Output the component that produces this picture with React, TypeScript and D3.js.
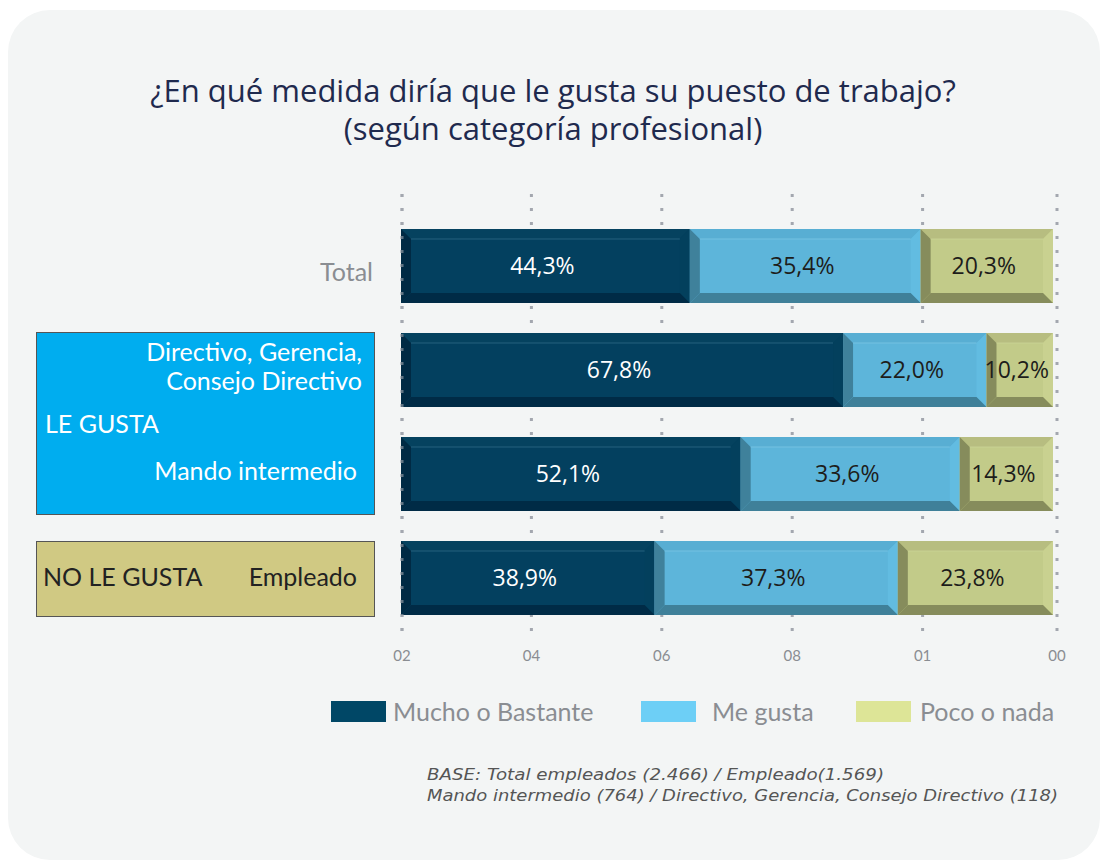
import React from 'react';
import * as d3 from 'd3';

const categories = ['Total', 'Directivo', 'Mando', 'Empleado'];
const mucho = [44.3, 67.8, 52.1, 38.9];
const meGusta = [35.4, 22.0, 33.6, 37.3];
const poco = [20.3, 10.2, 14.3, 23.8];
const seriesNames = ['Mucho o Bastante', 'Me gusta', 'Poco o nada'];
const tickValues = [0, 20, 40, 60, 80, 100];
const tickLabels = ['02', '04', '06', '08', '01', '00'];

// bevel palettes per series: face, top, right, bottom, left, label
const palettes = [
  { face: '#03405f', top: '#05425f', right: '#03405d', bottom: '#002b46', left: '#002a44', line: '#2f6a86', text: '#ffffff' },
  { face: '#5db5da', top: '#58aed3', right: '#62bce1', bottom: '#3f8099', left: '#3f819b', line: '#7cc6e4', text: '#1d1d1b' },
  { face: '#c2cb89', top: '#b7bd80', right: '#c9d190', bottom: '#868c5c', left: '#868c5c', line: '#ccd497', text: '#1d1d1b' },
];
const legendColors = ['#004766', '#6dcff6', '#dde597'];

const fmt = (v: number) => v.toFixed(1).replace('.', ',') + '%';

const BevelBar = ({ x0, x1, y0, h, pal, label }: any) => {
  const b = 10;
  const y1 = y0 + h;
  const pts = (arr: number[][]) => arr.map(p => p.join(',')).join(' ');
  return (
    <g>
      <rect x={x0} y={y0} width={x1 - x0} height={h} fill={pal.face} />
      <polygon points={pts([[x0, y0], [x1, y0], [x1 - b, y0 + b], [x0 + b, y0 + b]])} fill={pal.top} />
      <polygon points={pts([[x1, y0], [x1, y1], [x1 - b, y1 - b], [x1 - b, y0 + b]])} fill={pal.right} />
      <polygon points={pts([[x0, y1], [x1, y1], [x1 - b, y1 - b], [x0 + b, y1 - b]])} fill={pal.bottom} />
      <polygon points={pts([[x0, y0], [x0 + b, y0 + b], [x0 + b, y1 - b], [x0, y1]])} fill={pal.left} />
      <line x1={x0 + b} x2={x1 - b} y1={y0 + b} y2={y0 + b} stroke={pal.line} strokeWidth={0.8} />
      <text
        x={(x0 + x1) / 2 - 3}
        y={y0 + h / 2 + 8}
        textAnchor="middle"
        fill={pal.text}
        fontSize={23}
        fontFamily="'Open Sans', sans-serif"
      >
        {label}
      </text>
    </g>
  );
};

const App = () => {
  const x = d3.scaleLinear().domain([0, 100]).range([401, 1053]);
  const y = d3.scaleBand<string>().domain(categories).range([229, 615]).paddingInner(0.2885).paddingOuter(0);
  const stack = d3
    .stack<any>()
    .keys(['m', 'g', 'p'])(categories.map((c, i) => ({ c, m: mucho[i], g: meGusta[i], p: poco[i] })));

  const font = "Lato, 'Open Sans', sans-serif";
  const gx = (t: number) => (t === 100 ? x(t) + 4 : t === 0 ? x(t) + 1 : x(t));

  return (
    <svg width={1100} height={861} style={{ position: 'absolute', left: 0, top: 0 }}>
      <rect x={0} y={0} width={1100} height={861} fill="#ffffff" />
      <rect x={8} y={10} width={1092} height={850} rx={42} fill="#f3f5f5" />

      <text x={553} y={102} textAnchor="middle" fontSize={31} fill="#1f2a4e" fontFamily="'Open Sans', sans-serif">
        ¿En qué medida diría que le gusta su puesto de trabajo?
      </text>
      <text x={553} y={140} textAnchor="middle" fontSize={31} fill="#1f2a4e" fontFamily="'Open Sans', sans-serif">
        (según categoría profesional)
      </text>

      {/* dotted grid */}
      {tickValues.map((t, i) => (
        <g key={t}>
          <line x1={gx(t)} x2={gx(t)} y1={194} y2={634} stroke="#a3a7af" strokeWidth={3} strokeDasharray="3,11" />
          <text x={gx(t)} y={661} textAnchor="middle" fontSize={15} fill="#8a8d92" fontFamily={font}>
            {tickLabels[i]}
          </text>
        </g>
      ))}

      {/* left category boxes */}
      <rect x={36.5} y={332.5} width={338} height={182} fill="#00adef" stroke="#555" strokeWidth={1} />
      <rect x={36.5} y={541.5} width={338} height={75} fill="#d0c983" stroke="#555" strokeWidth={1} />

      <text x={373} y={281} textAnchor="end" fontSize={25} fill="#8a8d92" fontFamily={font}>Total</text>
      <text x={362} y={361} textAnchor="end" fontSize={25} fill="#ffffff" fontFamily={font}>Directivo, Gerencia,</text>
      <text x={362} y={390} textAnchor="end" fontSize={25} fill="#ffffff" fontFamily={font}>Consejo Directivo</text>
      <text x={45} y={433} fontSize={25} fill="#ffffff" fontFamily={font}>LE GUSTA</text>
      <text x={357} y={480} textAnchor="end" fontSize={25} fill="#ffffff" fontFamily={font}>Mando intermedio</text>
      <text x={43} y={586} fontSize={25} fill="#222222" fontFamily={font}>NO LE GUSTA</text>
      <text x={357} y={586} textAnchor="end" fontSize={25} fill="#222222" fontFamily={font}>Empleado</text>

      {/* bars */}
      {stack.map((s, si) =>
        s.map((d, ci) => (
          <BevelBar
            key={`${si}-${ci}`}
            x0={x(d[0])}
            x1={x(d[1])}
            y0={y(categories[ci])}
            h={y.bandwidth()}
            pal={palettes[si]}
            label={fmt(d[1] - d[0])}
          />
        ))
      )}

      {/* zero line dots drawn over bar edge */}
      <line x1={gx(0)} x2={gx(0)} y1={194} y2={634} stroke="#a3a7af" strokeWidth={3} strokeDasharray="3,11" opacity={0.6} />

      {/* legend */}
      {seriesNames.map((n, i) => (
        <g key={n}>
          <rect x={[331, 641, 856][i]} y={701} width={55} height={21} fill={legendColors[i]} />
          <text x={[393, 712, 920][i]} y={721} fontSize={25} fill="#8a8d92" fontFamily={font}>
            {n}
          </text>
        </g>
      ))}

      <text x={427} y={780} fontSize={16} fontStyle="italic" fill="#555" textLength={457} lengthAdjust="spacingAndGlyphs" fontFamily="'DejaVu Sans', Verdana, sans-serif">
        BASE: Total empleados (2.466) / Empleado(1.569)
      </text>
      <text x={427} y={801} fontSize={16} fontStyle="italic" fill="#555" textLength={631} lengthAdjust="spacingAndGlyphs" fontFamily="'DejaVu Sans', Verdana, sans-serif">
        Mando intermedio (764) / Directivo, Gerencia, Consejo Directivo (118)
      </text>
    </svg>
  );
};

export default App;
